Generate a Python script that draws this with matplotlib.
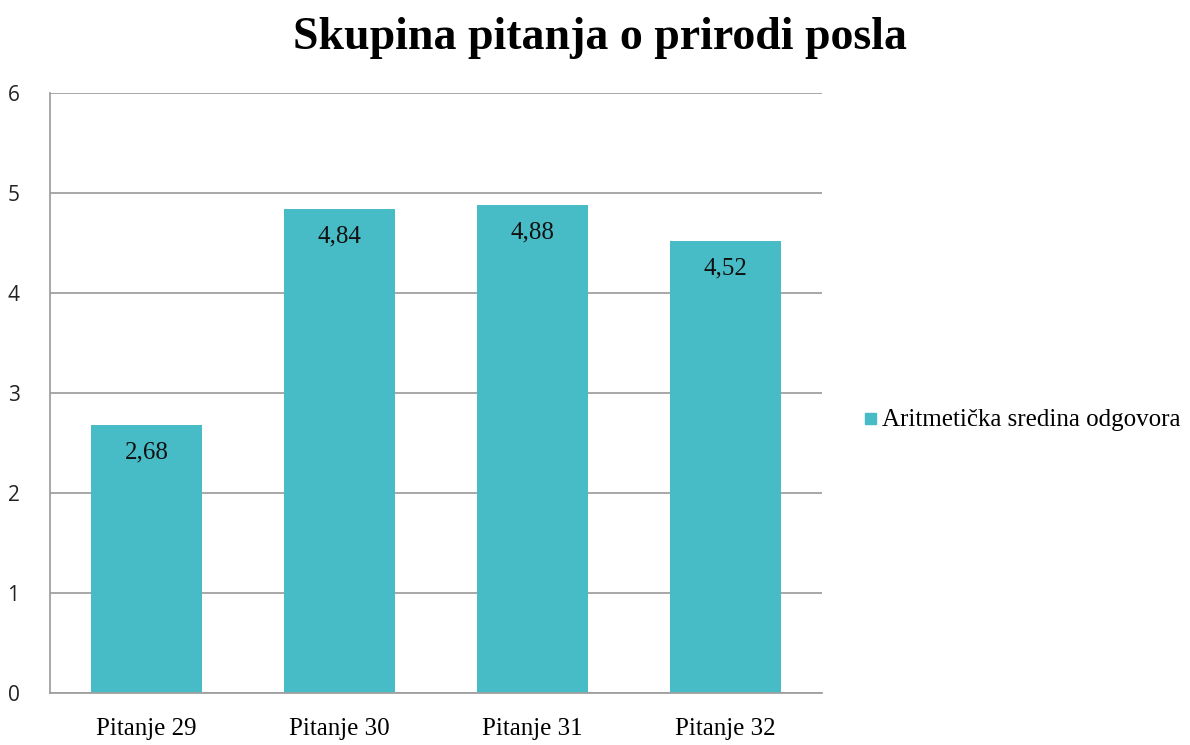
import matplotlib
matplotlib.use("Agg")
import matplotlib.pyplot as plt
from matplotlib.patches import Rectangle

categories = ["Pitanje 29", "Pitanje 30", "Pitanje 31", "Pitanje 32"]
values = [2.68, 4.84, 4.88, 4.52]
value_labels = ["2,68", "4,84", "4,88", "4,52"]
series_name = "Aritmetička sredina odgovora"
title = "Skupina pitanja o prirodi posla"

color = "#48BCC6"
serif = ["Liberation Serif", "DejaVu Serif"]

fig = plt.figure(figsize=(11.9, 7.45), dpi=100)
ax = fig.add_axes([50/1190, 1-693/745, (822-50)/1190, (693-93)/745])

x = list(range(len(categories)))
ax.bar(x, values, width=0.57, color=color, zorder=2)
for xi, v, lab in zip(x, values, value_labels):
    ax.annotate(lab, (xi, v), xytext=(0, -20), textcoords="offset points",
                ha="center", va="center", fontsize=18, family=serif, color="#111111")

ax.set_xlim(-0.5, len(categories)-0.5)
ax.set_ylim(0, 6)
ax.set_yticks(range(0, 7))
ax.yaxis.grid(True, color="#A0A0A0", linewidth=1.3, zorder=0)
ax.set_axisbelow(True)
for s in ["top", "right"]:
    ax.spines[s].set_visible(False)
for s in ["left", "bottom"]:
    ax.spines[s].set_color("#A0A0A0")
    ax.spines[s].set_linewidth(1.3)
ax.tick_params(axis="both", length=0)
ax.tick_params(axis="y", pad=22)
ax.tick_params(axis="x", pad=18)
ax.set_xticks(x)
ax.set_xticklabels(categories, family=serif, fontsize=18)
for t in ax.get_yticklabels():
    t.set_family(["Open Sans", "DejaVu Sans"])
    t.set_fontsize(15)
    t.set_color("#222222")

fig.text(600/1190, 1-38/745, title, ha="center", va="center", fontsize=33,
         fontweight="bold", family=serif)

fig.patches.append(Rectangle((865/1190, 1-424/745), 11/1190, 11/745,
                             transform=fig.transFigure, color=color, figure=fig))
fig.text(882/1190, 1-420/745, series_name, ha="left", va="center", fontsize=18,
         family=serif)

fig.savefig("out.png", dpi=100)
